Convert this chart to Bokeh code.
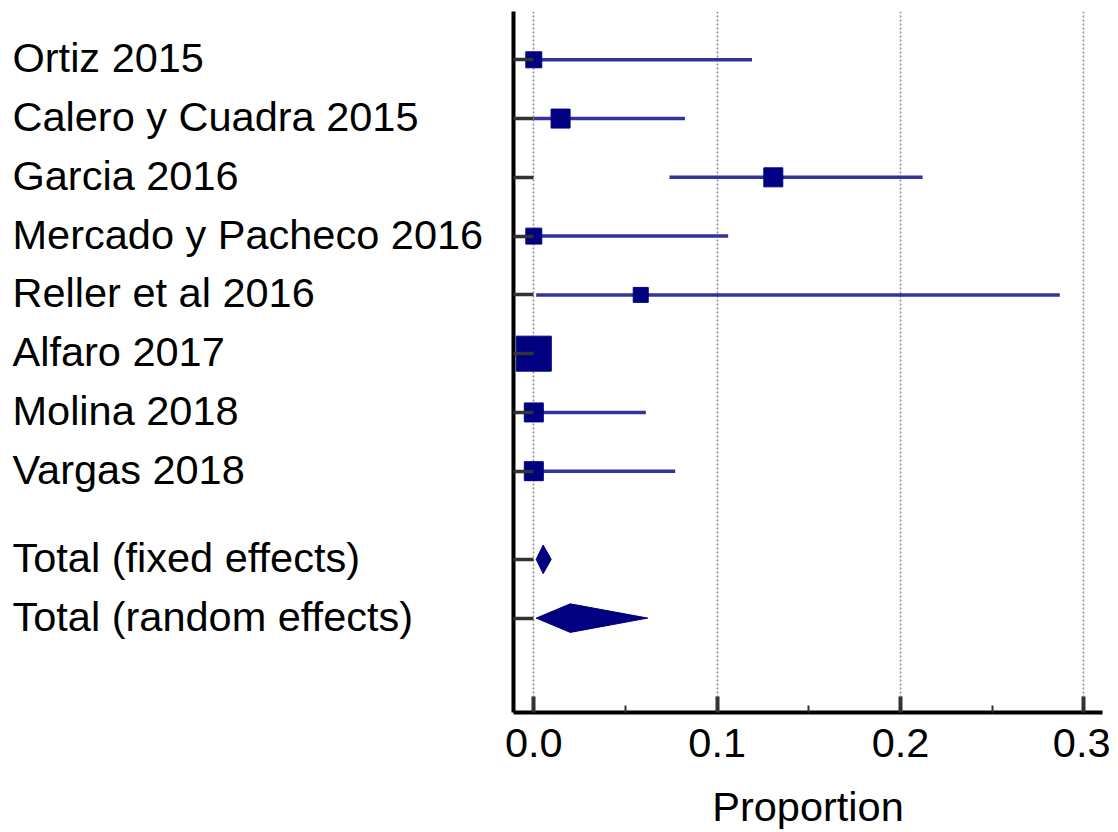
from bokeh.plotting import figure
from bokeh.layouts import row
from bokeh.models import Range1d, FixedTicker, ColumnDataSource
from bokeh.core.properties import value
from bokeh.embed import file_html
from bokeh.resources import INLINE

# ---- data ----
studies = ["Ortiz 2015", "Calero y Cuadra 2015", "Garcia 2016", "Mercado y Pacheco 2016",
           "Reller et al 2016", "Alfaro 2017", "Molina 2018", "Vargas 2018"]
study_rows = [1, 2, 3, 4, 5, 6, 7, 8]
est = [0.0, 0.0146, 0.1306, 0.0, 0.0583, 0.0, 0.0, 0.0]
lower = [0.0, 0.0, 0.074, 0.0, 0.0013, 0.0, 0.0, 0.0]
upper = [0.119, 0.0824, 0.212, 0.106, 0.2868, 0.009, 0.0611, 0.0771]
weights = [7.5, 10.6, 10.6, 7.5, 6.6, 36.0, 10.6, 10.6]

totals = ["Total (fixed effects)", "Total (random effects)"]
total_rows = [9.5, 10.5]
total_est = [0.0051, 0.0199]
total_lower = [0.0013, 0.0013]
total_upper = [0.0095, 0.0621]

x_ticks = [0.0, 0.1, 0.2, 0.3]
x_minor = [0.05, 0.15, 0.25]
x_tick_labels = ["0.0", "0.1", "0.2", "0.3"]

FONT = "Liberation Sans"
FS = "41.5px"
NAVY = "#000080"
CI = "#333399"

H = 832
TOP = 11
BOT = 120
y_range = Range1d(12.106, 0.178)

# ---- left label panel ----
LW = 503
left = figure(width=LW, height=H, x_range=Range1d(0, LW), y_range=y_range,
              toolbar_location=None, output_backend="svg",
              x_axis_location=None, y_axis_location=None,
              min_border_left=0, min_border_right=0, min_border_top=TOP, min_border_bottom=BOT)
left.grid.visible = False
left.outline_line_color = None
lab_src = ColumnDataSource(dict(x=[12] * (len(studies) + len(totals)),
                                y=study_rows + total_rows,
                                t=studies + totals))
left.text(x="x", y="y", text="t", source=lab_src, text_font=value(FONT),
          text_font_size=FS, text_baseline="middle", text_align="left", text_color="black",
          y_offset=-2)

# ---- main plot ----
p = figure(width=10 + 589 + 8, height=H, x_range=Range1d(-0.01107, 0.3101), y_range=y_range,
           toolbar_location=None, output_backend="svg",
           min_border_left=10, min_border_right=8, min_border_top=TOP, min_border_bottom=BOT)
p.outline_line_color = None
p.ygrid.visible = False
p.xgrid.ticker = FixedTicker(ticks=x_ticks)
p.xgrid.grid_line_color = "#8c8c8c"
p.xgrid.grid_line_dash = "2 2"
p.xgrid.grid_line_width = 1.5

xa = p.xaxis[0]
xa.ticker = FixedTicker(ticks=x_ticks, minor_ticks=x_minor)
xa.major_label_overrides = {t: l for t, l in zip(x_ticks, x_tick_labels)}
xa.axis_line_width = 4
xa.axis_line_color = "black"
xa.major_tick_in = 16
xa.major_tick_out = 0
xa.major_tick_line_width = 4
xa.major_tick_line_color = "#333333"
xa.minor_tick_in = 7
xa.minor_tick_out = 0
xa.minor_tick_line_width = 2
xa.minor_tick_line_color = "#333333"
xa.major_label_text_font = FONT
xa.major_label_text_font_size = FS
xa.major_label_text_color = "black"
xa.major_label_standoff = 16
xa.axis_label = "Proportion"
xa.axis_label_text_font = FONT
xa.axis_label_text_font_size = FS
xa.axis_label_text_font_style = "normal"
xa.axis_label_text_color = "black"
xa.axis_label_standoff = 23

ya = p.yaxis[0]
ya.ticker = FixedTicker(ticks=study_rows + total_rows)
ya.axis_line_width = 4
ya.axis_line_color = "black"
ya.major_tick_in = 20
ya.major_tick_out = 0
ya.major_tick_line_width = 3.5
ya.major_tick_line_color = "#333333"
ya.minor_tick_line_color = None
ya.major_label_overrides = {t: "" for t in study_rows + total_rows}
ya.major_label_standoff = 0

# CI lines
p.segment(x0=lower, y0=study_rows, x1=upper, y1=study_rows, line_color=CI, line_width=3.5)
# squares sized by weight
sizes = [5.83 * (w ** 0.5) for w in weights]
p.scatter(x=est, y=study_rows, size=sizes, marker="square", fill_color=NAVY,
          line_color=NAVY, line_width=1)

# diamonds
half_h = 0.243
xs = [[lo, e, hi, e] for lo, e, hi in zip(total_lower, total_est, total_upper)]
ys = [[r, r - half_h, r, r + half_h] for r in total_rows]
p.patches(xs=xs, ys=ys, fill_color=NAVY, line_color=NAVY, line_width=1)

layout = row(left, p, spacing=0)
open("out.html", "w").write(file_html(layout, INLINE))
